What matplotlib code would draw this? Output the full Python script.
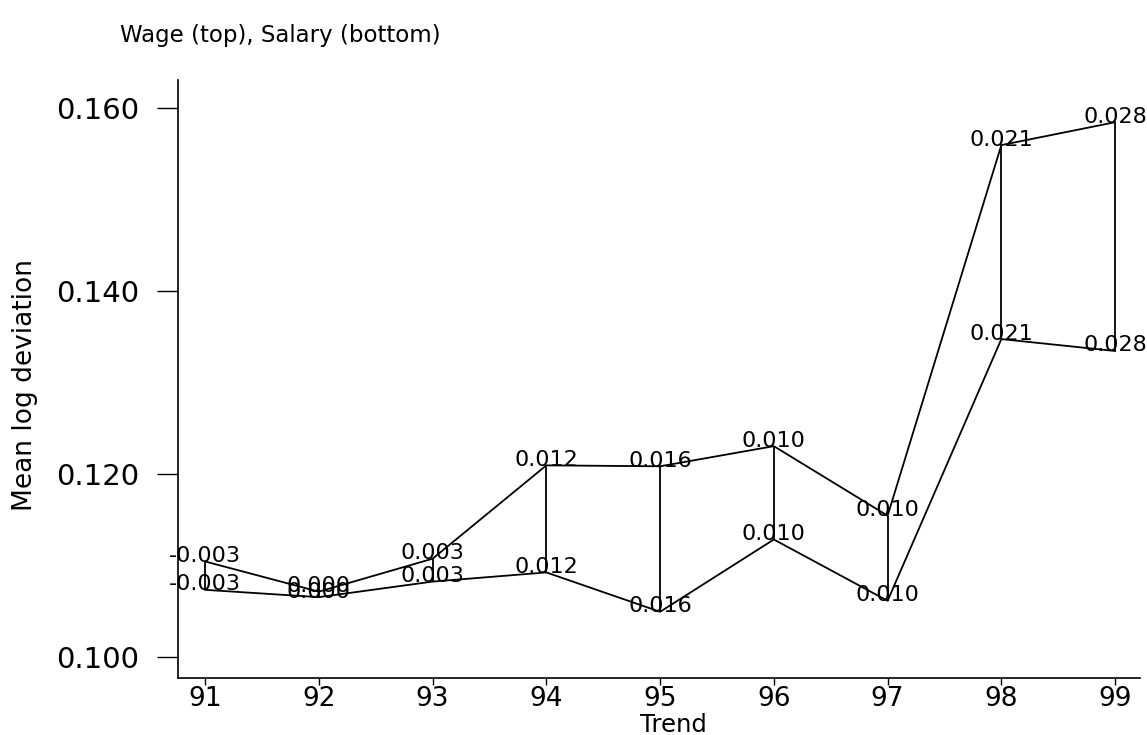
import matplotlib.pyplot as plt

plt.rcParams['font.family'] = ['DejaVu Sans']

# years (x axis)
years = [91, 92, 93, 94, 95, 96, 97, 98, 99]

# mean log deviation
wage = [0.1104, 0.1071, 0.1107, 0.1209, 0.1208, 0.1230, 0.1154, 0.1559, 0.1584]
salary = [0.1073, 0.1065, 0.1082, 0.1092, 0.1049, 0.1128, 0.1061, 0.1347, 0.1334]

# marker labels (gap between the two series)
gap_labels = ["-0.003", "0.000", "0.003", "0.012", "0.016",
              "0.010", "0.010", "0.021", "0.028"]

y_ticks = [0.100, 0.120, 0.140, 0.160]

fig = plt.figure(figsize=(11.47, 7.35), dpi=100)
ax = fig.add_axes([0.155, 0.078, 0.839, 0.813])

# the two lines
ax.plot(years, wage, color='black', lw=1.3)
ax.plot(years, salary, color='black', lw=1.3)

# vertical spikes joining wage and salary each year
ax.vlines(years, salary, wage, color='black', lw=1.3)

# labels on each point
for x, w, s, lab in zip(years, wage, salary, gap_labels):
    ax.annotate(lab, (x, w), xytext=(0, 4), textcoords='offset points',
                ha='center', va='center', fontsize=16)
    ax.annotate(lab, (x, s), xytext=(0, 4), textcoords='offset points',
                ha='center', va='center', fontsize=16)

ax.set_xlim(90.76, 99.22)
ax.set_ylim(0.0977, 0.1630)
ax.set_xticks(years)
ax.set_xticklabels([str(y) for y in years])
ax.set_yticks(y_ticks)
ax.set_yticklabels(['%.3f' % v for v in y_ticks])

ax.spines['top'].set_visible(False)
ax.spines['right'].set_visible(False)
for sp in ['left', 'bottom']:
    ax.spines[sp].set_linewidth(1.2)

ax.tick_params(axis='y', length=15, width=1, pad=13, labelsize=21)
ax.tick_params(axis='x', length=5, width=1, pad=1, labelsize=19)

# axis titles placed in figure coordinates
fig.text(0.587, 0.014, 'Trend', fontsize=17.5, ha='center', va='center')
fig.text(0.022, 0.476, 'Mean log deviation', fontsize=19, rotation=90,
         ha='center', va='center')

fig.text(0.105, 0.952, 'Wage (top), Salary (bottom)', fontsize=16.5,
         ha='left', va='center')

fig.savefig('out.png', dpi=100)
